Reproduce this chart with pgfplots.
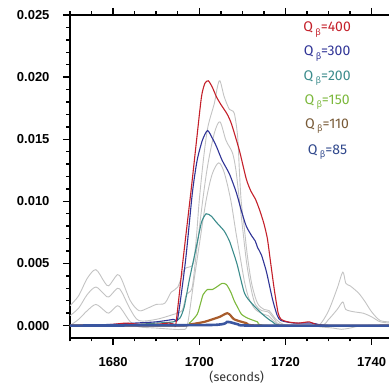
\documentclass[border=0pt]{standalone}
\usepackage{pgfplots}
\pgfplotsset{compat=1.18}
\usepackage{fontspec}
\setmainfont{Liberation Sans}
\newfontfamily\lblfont{Fira Sans}
\definecolor{cRed}{RGB}{196,32,42}
\definecolor{cBlue}{RGB}{48,52,150}
\definecolor{cTeal}{RGB}{60,140,140}
\definecolor{cGreen}{RGB}{124,184,60}
\definecolor{cBrown}{RGB}{168,92,44}
\definecolor{cBrownT}{RGB}{120,90,55}
\definecolor{cNavy}{RGB}{58,86,160}
\definecolor{cNavyT}{RGB}{48,72,140}
\definecolor{cGray}{RGB}{195,195,195}
\newcommand{\qb}[1]{Q\,\raisebox{-0.45ex}{\fontsize{9}{9}\selectfont β}=#1}
\begin{document}
\begin{tikzpicture}
\begin{axis}[
  scale only axis, width=321pt, height=323pt,
  xmin=1670, xmax=1744.48, ymin=-0.001, ymax=0.025,
  axis line style={-, line width=1.8pt},
  tick align=outside,
  xtick pos=both, xticklabel pos=lower, ytick pos=left,
  xtick={1680,1700,1720,1740},
  minor xtick={1670,1675,1685,1690,1695,1705,1710,1715,1725,1730,1735,1740},
  ytick={0,0.005,0.010,0.015,0.020,0.025},
  minor ytick={0.001,0.002,0.003,0.004,0.006,0.007,0.008,0.009,0.011,0.012,0.013,0.014,0.016,0.017,0.018,0.019,0.021,0.022,0.023,0.024},
  major tick length=7pt, minor tick length=3.5pt,
  every tick/.style={black, line width=1.4pt},
  scaled y ticks=false,
  yticklabel style={/pgf/number format/.cd, fixed, fixed zerofill, precision=3, /tikz/.cd, anchor=east, xshift=-10pt},
  xticklabel style={/pgf/number format/.cd, set thousands separator={}, /tikz/.cd, yshift=-9pt},
  /pgf/number format/assume math mode=true,
  ticklabel style={font=\bfseries\fontsize{13}{13}\selectfont},
  xlabel={(seconds)},
  xlabel style={at={(axis description cs:0.5193,0)}, anchor=center, yshift=-38.7pt, font=\lblfont\fontsize{12.5}{12.5}\selectfont, text=black!80},
]
\coordinate (sw) at (rel axis cs:0,0);
\coordinate (nw) at (rel axis cs:0,1);
% gray curves
\addplot[cGray, line width=0.9pt, smooth, tension=0.5] coordinates {
(1670,0.0016)(1672,0.0024)(1674,0.0038)(1676,0.0045)(1678,0.0035)(1679,0.0032)(1681,0.0041)(1682,0.0037)(1684,0.0020)(1686,0.0012)(1688,0.0014)(1690,0.0017)(1692,0.0018)(1693.5,0.0027)(1695,0.0031)(1696.5,0.0045)(1697.5,0.0047)(1698.6,0.0050)(1699.3,0.0070)(1700.0,0.0101)(1701,0.0135)(1702,0.0160)(1703.5,0.0179)(1704.2,0.0192)(1704.8,0.0197)(1705.8,0.0184)(1707.0,0.0174)(1708.1,0.0171)(1708.9,0.0152)(1709.3,0.0125)(1709.7,0.0101)(1710.4,0.0080)(1711.2,0.0055)(1712.2,0.0033)(1713.5,0.0018)(1715,0.0013)(1716.2,0.0012)(1717.8,0.0005)(1719.5,0.0001)(1722,0.0000)(1726,0.0000)(1728,0.0001)(1730,0.0012)(1732,0.0030)(1733.3,0.0043)(1734,0.0034)(1735,0.0032)(1737,0.0026)(1738.5,0.0019)(1740,0.0011)(1742,0.0004)(1744.5,0.0003)};
\addplot[cGray, line width=0.9pt, smooth, tension=0.5] coordinates {
(1670,0.0008)(1672,0.0014)(1674,0.0025)(1676,0.0031)(1678,0.0025)(1679,0.0023)(1681,0.0030)(1682,0.0027)(1684,0.0013)(1686,0.0004)(1690,0.0005)(1694,0.0009)(1696,0.0012)(1697,0.0025)(1698.3,0.0030)(1699.2,0.0055)(1700.8,0.0101)(1702,0.0130)(1703.5,0.0155)(1704.8,0.0164)(1706.2,0.0149)(1707.7,0.0139)(1708.5,0.0125)(1709.3,0.0101)(1710,0.0080)(1711,0.0050)(1712,0.0030)(1713,0.0017)(1714.5,0.0012)(1716,0.0011)(1717.5,0.0005)(1719,0.0001)(1728,0.0000)(1730,0.0005)(1732,0.0013)(1733.3,0.0019)(1734,0.0013)(1736,0.0011)(1738,0.0010)(1740,0.0007)(1742,0.0003)(1744.5,0.0002)};
\addplot[cGray, line width=0.9pt, smooth, tension=0.5] coordinates {
(1670,0.0000)(1672,0.0005)(1674,0.0012)(1676,0.0017)(1678,0.0012)(1679,0.0010)(1681,0.0016)(1682,0.0013)(1684,0.0003)(1686,-0.0001)(1690,-0.0002)(1694,-0.0003)(1696,-0.0003)(1697.2,0.0000)(1698.5,0.0030)(1700,0.0065)(1701.6,0.0101)(1703,0.0122)(1704.5,0.0131)(1705.8,0.0123)(1707.3,0.0101)(1708.5,0.0075)(1709.5,0.0055)(1710.5,0.0035)(1711.5,0.0022)(1713,0.0013)(1715,0.0009)(1716,0.0008)(1717.5,0.0003)(1719,0.0000)(1726,0.0000)(1728,-0.0001)(1731,-0.0002)(1733,-0.0003)(1735,-0.0002)(1738,0.0000)(1744.5,0.0000)};
% teal 200
\addplot[cTeal, line width=1.1pt, smooth, tension=0.4] coordinates {
(1670,0)(1685,0.0001)(1690,0.0002)(1694,0.0003)(1695.5,0.0006)(1696.5,0.0015)(1697.7,0.0037)(1699.3,0.0063)(1700.5,0.0083)(1701.6,0.0090)(1702.8,0.0088)(1704.0,0.0083)(1705.8,0.0076)(1707.0,0.0068)(1707.7,0.0061)(1708.8,0.0049)(1710.5,0.0026)(1712.4,0.0017)(1714.7,0.0009)(1717,0.0003)(1720,0.0000)(1744.5,0)};
% green 150
\addplot[cGreen, line width=1.1pt, smooth, tension=0.4] coordinates {
(1670,0)(1696,0)(1697.7,0.0002)(1699.5,0.0009)(1700.3,0.0018)(1700.9,0.0025)(1701.9,0.0029)(1703.0,0.0029)(1704.0,0.0031)(1705.3,0.0034)(1706.3,0.0033)(1707.3,0.0027)(1708.1,0.0020)(1709.0,0.0014)(1709.8,0.0009)(1711.2,0.0006)(1713.5,0.0003)(1716,0)(1744.5,0)};
% blue 300
\addplot[cBlue, line width=1.1pt, smooth, tension=0.4] coordinates {
(1670,0.0000)(1680,0.0001)(1685,0.0002)(1690,0.0003)(1694,0.0005)(1695,0.0006)(1696.8,0.0052)(1698.4,0.0107)(1699.5,0.0133)(1700.7,0.0149)(1701.9,0.0157)(1703.0,0.0151)(1704.0,0.0144)(1705.3,0.0133)(1707.0,0.0122)(1708.6,0.0107)(1709.8,0.0092)(1710.9,0.0080)(1712.2,0.0072)(1713.0,0.0068)(1713.5,0.0063)(1714.4,0.0057)(1715.6,0.0043)(1717.0,0.0021)(1718.1,0.0008)(1719,0.0004)(1722,0.0002)(1726,0.0002)(1730,0.0000)(1744.5,0.0000)};
% red 400
\addplot[cRed, line width=1.1pt, smooth, tension=0.4] coordinates {
(1670,0.0000)(1675,0.0000)(1680,0.0001)(1683,0.0002)(1686,0.0001)(1690,0.0001)(1693,0.0002)(1694.2,0.0001)(1694.6,0.0002)(1696.3,0.0055)(1698.1,0.0109)(1699.3,0.0147)(1700.5,0.0184)(1701.3,0.0195)(1702.1,0.0197)(1703.0,0.0192)(1704.0,0.0184)(1705.0,0.0178)(1706.5,0.0170)(1707.5,0.0162)(1709.3,0.0141)(1710.9,0.0118)(1712.0,0.0108)(1713.0,0.0102)(1714.0,0.0093)(1715.0,0.0082)(1715.8,0.0070)(1716.5,0.0052)(1717.4,0.0029)(1718.3,0.0010)(1719.0,0.0005)(1720.5,0.0003)(1723,0.0002)(1725.5,0.0003)(1727,0.0001)(1730,0.0000)(1744.5,0.0000)};
% brown 110
\addplot[cBrown, line width=2.2pt, smooth, tension=0.4] coordinates {
(1670,0)(1695,0)(1698,0.0001)(1701.2,0.0003)(1703,0.0005)(1704.7,0.0007)(1706.5,0.0010)(1707.3,0.0008)(1708.1,0.0005)(1710.9,0.0002)(1714,0)(1744.5,0)};
% navy 85
\addplot[cNavy, line width=2.6pt, smooth, tension=0.4] coordinates {
(1670,0)(1703,0.00005)(1706.5,0.0003)(1709,0.0001)(1712,0.0)(1744.5,0)};
% legend texts
\begin{scope}[every node/.style={font=\lblfont\fontsize{14}{14}\selectfont, anchor=center}]
\node[text=cRed]   at (axis cs:1729.65,0.02384) {\qb{400}};
\node[text=cBlue]  at (axis cs:1729.65,0.02189) {\qb{300}};
\node[text=cTeal]  at (axis cs:1729.65,0.01990) {\qb{200}};
\node[text=cGreen] at (axis cs:1729.65,0.01797) {\qb{150}};
\node[text=cBrownT] at (axis cs:1729.65,0.01604) {\qb{110}};
\node[text=cNavyT] at (axis cs:1729.75,0.01395) {\qb{85}};
\end{scope}
\end{axis}
\pgfresetboundingbox
\path[use as bounding box] ([xshift=-70pt,yshift=-45pt]sw) rectangle ([xshift=319pt,yshift=15pt]nw);
\end{tikzpicture}
\end{document}
